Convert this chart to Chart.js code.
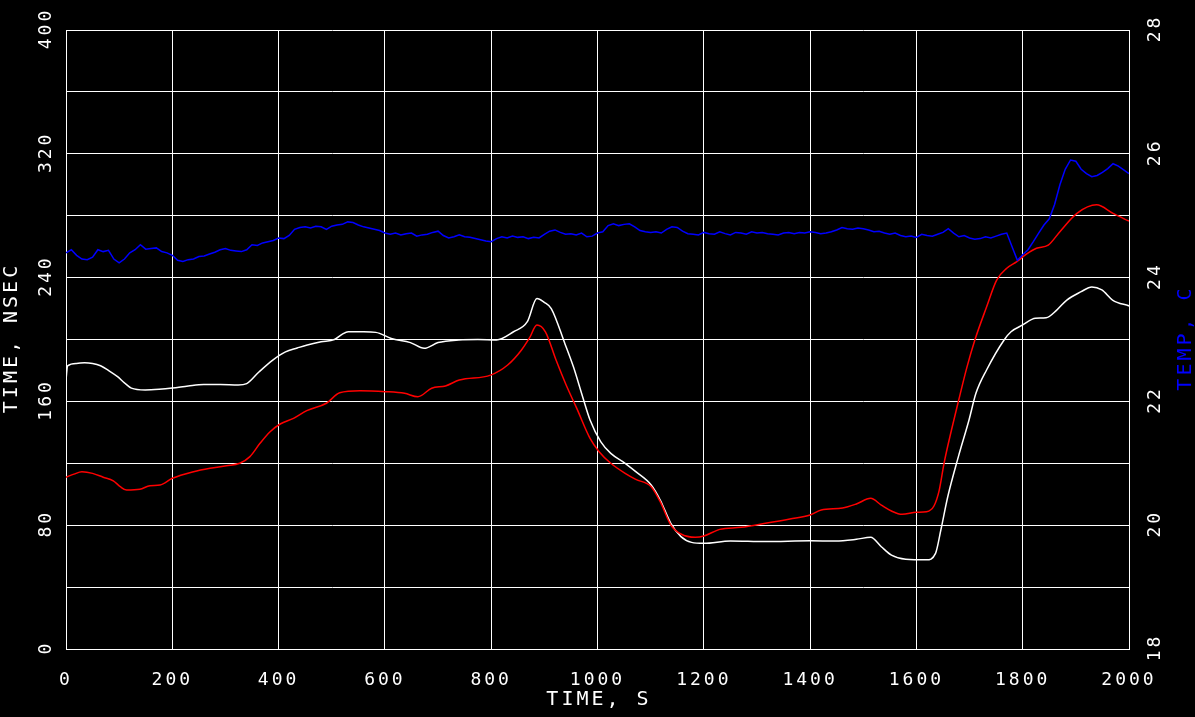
<!DOCTYPE html>
<html>
<head>
<meta charset="utf-8">
<script src="https://cdn.jsdelivr.net/npm/chart.js@4.4.1/dist/chart.umd.min.js"></script>
<style>
  html, body { margin: 0; padding: 0; background: #000; }
  #wrap { width: 1195px; height: 717px; }
</style>
</head>
<body>
<div id="wrap"><canvas id="myChart"></canvas></div>
<script>
// axis text
const xTitle = "TIME, S";
const leftTitle = "TIME, NSEC";
const rightTitle = "TEMP, C";
const xTicks = [0, 200, 400, 600, 800, 1000, 1200, 1400, 1600, 1800, 2000];
const leftGrid = [0, 40, 80, 120, 160, 200, 240, 280, 320, 360, 400];
const leftLabels = [0, 80, 160, 240, 320, 400];
const rightTicks = [18, 20, 22, 24, 26, 28];

// white trace (left axis, nsec)
const whiteT = [0, 3, 20, 35, 50, 65, 80, 97, 110, 123, 149, 175, 200, 230, 259, 290, 324, 340, 363, 389,
  413, 435, 454, 480, 505, 520, 531, 560, 583, 612, 648, 674, 700, 739, 775, 810, 842, 868, 886, 900,
  913, 939, 955, 972, 986, 1006, 1025, 1052, 1072, 1101, 1118, 1138, 1157, 1177, 1200, 1250, 1316, 1400, 1448, 1487,
  1514, 1534, 1553, 1580, 1619, 1636, 1646, 1659, 1679, 1699, 1712, 1732, 1765, 1778, 1800, 1824, 1844, 1864, 1883, 1910,
  1930, 1949, 1969, 2000];
const whiteV = [174, 183, 184.5, 185, 184.5, 183, 180, 176, 172, 168.6, 167.4, 167.8, 168.6, 170, 171, 171, 170.6, 171.5, 179, 186.7,
  192, 194.5, 196.5, 198.5, 200, 203.5, 205, 205, 204.6, 200.7, 198, 194.3, 198, 199.7, 200, 199.7, 205, 211.5, 226.5, 224,
  220, 197, 182, 163, 148, 134, 126.4, 120, 114.6, 106, 96.3, 81.2, 72.6, 68.9, 68.3, 69.8, 69.4, 69.9, 69.8, 70.9,
  72.2, 66.1, 60.7, 58, 57.6, 61.8, 76.9, 98.4, 124.3, 148, 165.2, 180.3, 199.7, 205, 209.4, 213.7, 214, 219, 225.5, 230.9,
  234, 232, 225.5, 221.7];

// red trace (left axis, nsec)
const redT = [0, 15, 30, 50, 70, 89, 102, 114, 139, 158, 177, 200, 240, 271, 302, 327, 346, 365, 384, 403,
  428, 453, 490, 515, 553, 601, 637, 662, 688, 714, 740, 799, 831, 857, 872, 886, 902, 922, 941, 961,
  986, 1003, 1025, 1052, 1072, 1101, 1118, 1138, 1157, 1184, 1200, 1230, 1270, 1316, 1362, 1400, 1421, 1461, 1487, 1514,
  1534, 1553, 1573, 1600, 1619, 1633, 1643, 1652, 1666, 1679, 1695, 1710, 1732, 1751, 1770, 1789, 1807, 1826, 1848, 1870,
  1902, 1939, 1970, 2000];
const redV = [111, 113, 114.5, 113.5, 111, 108.7, 104.9, 102.7, 103.2, 105.5, 106, 110.3, 114.6, 116.8, 118.4, 120, 124.3, 132.9, 140.4, 145.4,
  149, 154, 158.8, 165.6, 166.9, 166.3, 165.2, 163, 168.5, 170, 173.8, 177, 183.5, 193.2, 201, 209.4, 205, 186.7, 170.6, 155.5,
  136.1, 127.5, 120, 113.5, 109.6, 104.9, 95.2, 80.1, 74.3, 72.2, 73, 77.3, 78.6, 81.2, 84, 86.6, 89.8, 91.1, 93.7, 97.4,
  93, 89.2, 87, 88.3, 88.7, 92.4, 102.7, 120, 141.5, 160, 182, 199.7, 221, 238.4, 246, 250.3, 255.2, 259, 261, 269.7,
  281.5, 287, 281.5, 276.5];

// blue trace (right axis, deg C), one reading every 10 s
const blueV = [
  24.40, 24.45, 24.36, 24.30, 24.29, 24.33, 24.45, 24.42, 24.44, 24.30,
  24.24, 24.30, 24.40, 24.45, 24.53, 24.46, 24.47, 24.48, 24.42, 24.40,
  24.36, 24.28, 24.26, 24.29, 24.30, 24.34, 24.35, 24.38, 24.41, 24.45,
  24.47, 24.44, 24.43, 24.42, 24.45, 24.53, 24.52, 24.56, 24.58, 24.60,
  24.64, 24.63, 24.68, 24.78, 24.81, 24.82, 24.80, 24.83, 24.82, 24.78,
  24.83, 24.85, 24.86, 24.90, 24.89, 24.85, 24.82, 24.80, 24.78, 24.76,
  24.72, 24.70, 24.72, 24.69, 24.71, 24.72, 24.67, 24.69, 24.70, 24.73,
  24.75, 24.68, 24.64, 24.66, 24.69, 24.66, 24.65, 24.63, 24.61, 24.59,
  24.58, 24.63, 24.66, 24.64, 24.67, 24.65, 24.66, 24.63, 24.65, 24.64,
  24.70, 24.75, 24.77, 24.73, 24.70, 24.71, 24.69, 24.72, 24.66, 24.67,
  24.72, 24.74, 24.84, 24.87, 24.84, 24.86, 24.87, 24.82, 24.76, 24.74,
  24.73, 24.74, 24.72, 24.78, 24.82, 24.81, 24.75, 24.71, 24.70, 24.69,
  24.73, 24.71, 24.70, 24.74, 24.71, 24.69, 24.73, 24.72, 24.70, 24.74,
  24.72, 24.73, 24.71, 24.70, 24.69, 24.72, 24.73, 24.71, 24.73, 24.72,
  24.74, 24.73, 24.71, 24.72, 24.74, 24.77, 24.81, 24.79, 24.78, 24.80,
  24.79, 24.77, 24.74, 24.75, 24.72, 24.70, 24.72, 24.68, 24.66, 24.67,
  24.65, 24.70, 24.68, 24.67, 24.70, 24.73, 24.79, 24.72, 24.66, 24.68,
  24.64, 24.62, 24.63, 24.66, 24.64, 24.67, 24.70, 24.72, 24.50, 24.28,
  24.37, 24.45, 24.58, 24.72, 24.85, 24.95, 25.18, 25.50, 25.75, 25.90,
  25.88, 25.75, 25.68, 25.63, 25.65, 25.70, 25.76, 25.84, 25.80, 25.74,
  25.68];
const blueStep = 10;

function pts(ts, vs) {
  return ts.map((t, i) => ({ x: t, y: vs[i] }));
}
const blueT = blueV.map((v, i) => i * blueStep);

const FONT = '"DejaVu Sans Mono", "Liberation Mono", monospace';

function vtext(c, s, x, y) {
  c.save();
  c.translate(x, y);
  c.rotate(-Math.PI / 2);
  c.fillText(s, 1.5, 0);
  c.restore();
}

// black page, rotated y labels and the three axis titles
const axisText = {
  id: 'axisText',
  beforeDraw(chart) {
    const c = chart.ctx;
    c.save();
    c.fillStyle = '#000';
    c.fillRect(0, 0, chart.width, chart.height);
    c.restore();
    c.letterSpacing = '3px';
  },
  afterDraw(chart) {
    const c = chart.ctx, a = chart.chartArea;
    const yl = chart.scales.y, yr = chart.scales.y2;
    const mid = (a.top + a.bottom) / 2;
    c.save();
    c.letterSpacing = '3px';
    c.textAlign = 'center';
    c.textBaseline = 'middle';
    c.fillStyle = '#fff';
    c.font = '18px ' + FONT;
    leftLabels.forEach(v => vtext(c, String(v), 46, yl.getPixelForValue(v)));
    rightTicks.forEach(v => vtext(c, String(v), 1155, yr.getPixelForValue(v)));
    c.font = '20px ' + FONT;
    vtext(c, leftTitle, 12, mid);
    c.fillStyle = '#0000ff';
    vtext(c, rightTitle, 1186, mid);
    c.fillStyle = '#fff';
    c.fillText(xTitle, (a.left + a.right) / 2 + 1.5, 700);
    c.restore();
  }
};

function setTicks(arr) {
  return function (scale) { scale.ticks = arr.map(v => ({ value: v })); };
}

const CHART = document.getElementById("myChart");
let myChart = new Chart(CHART, {
  type: 'line',
  data: {
    datasets: [{
      label: 'TEMP',
      data: pts(blueT, blueV),
      yAxisID: 'y2',
      borderColor: '#0000ff',
      borderWidth: 1.5,
      pointRadius: 0,
      tension: 0,
      order: 0
    }, {
      label: 'red',
      data: pts(redT, redV),
      yAxisID: 'y',
      borderColor: '#ff0000',
      borderWidth: 1.5,
      pointRadius: 0,
      cubicInterpolationMode: 'monotone',
      order: 1
    }, {
      label: 'white',
      data: pts(whiteT, whiteV),
      yAxisID: 'y',
      borderColor: '#ffffff',
      borderWidth: 1.5,
      pointRadius: 0,
      cubicInterpolationMode: 'monotone',
      order: 2
    }]
  },
  options: {
    responsive: true,
    maintainAspectRatio: false,
    animation: false,
    layout: { padding: { top: 30, left: 0, right: 0, bottom: 0 } },
    plugins: { legend: { display: false }, tooltip: { enabled: false } },
    scales: {
      x: {
        type: 'linear',
        min: 0, max: 2000,
        afterBuildTicks: setTicks(xTicks),
        afterFit(s) { s.height = 68; },
        grid: { color: '#fff', lineWidth: 1, drawTicks: false },
        border: { display: true, color: '#fff' },
        ticks: {
          color: '#fff', padding: 21, maxRotation: 0, autoSkip: false,
          font: { family: FONT, size: 18 },
          callback: v => String(v)
        }
      },
      y: {
        type: 'linear',
        position: 'left',
        min: 0, max: 400,
        afterBuildTicks: setTicks(leftGrid),
        afterFit(s) { s.width = 66; },
        grid: { color: '#fff', lineWidth: 1, drawTicks: false },
        border: { display: true, color: '#fff' },
        ticks: { display: false }
      },
      y2: {
        type: 'linear',
        position: 'right',
        min: 18, max: 28,
        afterBuildTicks: setTicks(rightTicks),
        afterFit(s) { s.width = 66; },
        grid: { display: false, drawTicks: false },
        border: { display: true, color: '#fff' },
        ticks: { display: false }
      }
    }
  },
  plugins: [axisText]
});
</script>
</body>
</html>
